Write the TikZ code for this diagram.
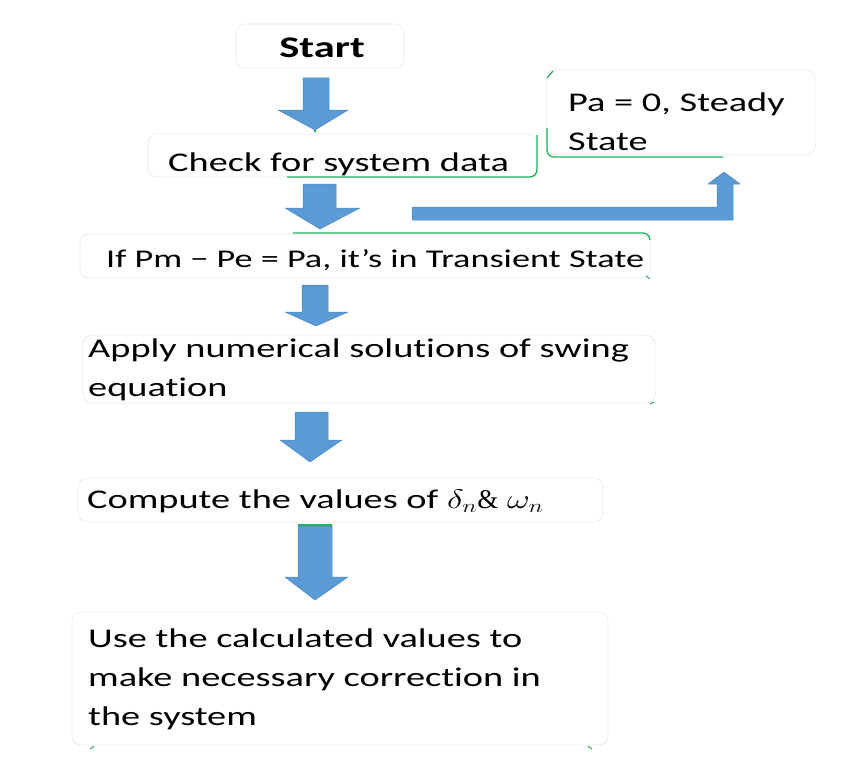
\documentclass[tikz,border=0pt]{standalone}
\usepackage{fontspec}
\usepackage{graphicx}
\setmainfont{Carlito}[FakeStretch=1.42, Ligatures={NoCommon,NoContextual}, Contextuals={NoAlternate}]
\newfontfamily\ampfont{Liberation Serif}
\definecolor{officeblue}{HTML}{5B9BD5}
\definecolor{blueedge}{HTML}{4A88C2}
\definecolor{gline}{HTML}{22B05A}
\definecolor{faint}{HTML}{ECECEC}
\tikzset{
  box/.style={draw=faint, line width=0.8pt, rounded corners=9pt, fill=white, inner sep=0pt},
  txt/.style={inner sep=0pt, anchor=base west, font=\fontsize{27}{39}\selectfont},
  blockarrow/.style={fill=officeblue, draw=blueedge, line width=0.5pt, line join=round},
  greenline/.style={draw=gline, line width=1.3pt, rounded corners=7pt}
}
\begin{document}
\begin{tikzpicture}[x=1pt,y=-1pt]
\useasboundingbox (0,0) rectangle (852,768);
% boxes
\node[box, minimum width=168pt, minimum height=44pt] (start) at (320,46) {};
\node[box, minimum width=389pt, minimum height=43pt] (check) at (342.5,155.5) {};
\node[box, minimum width=268pt, minimum height=85pt] (steady) at (681,112.5) {};
\node[box, minimum width=570pt, minimum height=44pt] (trans) at (365,256) {};
\node[box, minimum width=572pt, minimum height=68pt] (apply) at (369,369) {};
\node[box, minimum width=525pt, minimum height=44pt] (comp) at (340.5,500) {};
\node[box, minimum width=536pt, minimum height=133pt] (use) at (340,678.5) {};
% green partial borders
\draw[greenline] (287,177) -- (537,177) -- (537,135);
\draw[greenline] (547,128) -- (547,157) -- (723,157);
\draw[gline, line width=1.2pt] (547,78) -- (553,71);
\draw[greenline] (293,233) -- (650,233) -- (650,240);
\draw[gline, line width=1pt] (646,276) -- (650,279);
\draw[gline, line width=1pt] (650,404) -- (654,402);
\draw[gline, line width=1pt] (90,749) -- (94,746);
\draw[gline, line width=1pt] (588,746) -- (592,749);
% texts
\node[txt, anchor=base, font=\bfseries\fontsize{30}{36}\selectfont] (tstart) at (322,58) {Start};
\node[txt] (tcheck) at (168,171) {Check for system data};
\node[txt] (tsteady1) at (568,111) {Pa = 0, Steady};
\node[txt] (tsteady2) at (568,150) {State};
\node[txt, font=\fontsize{25.5}{39}\selectfont] (ttrans) at (106,267) {If Pm − Pe = Pa, it’s in Transient State};
\begin{scope}
\clip (83,335) rectangle (655,400);
\node[txt] (tapply1) at (88,357) {Apply numerical solutions of swing};
\node[txt] (tapply2) at (88,396) {equation};
\end{scope}
\node[txt] (tcomp) at (87,508) {Compute the values of \scalebox{1.42}[1.08]{$\delta_n$}{\ampfont\&} \scalebox{1.42}[1.08]{$\omega_n$}};
\node[txt] (tuse1) at (88,647) {Use the calculated values to};
\node[txt] (tuse2) at (88,686) {make necessary correction in};
\node[txt] (tuse3) at (88,725) {the system};
% block arrows (down)
\draw[blockarrow] (303,78) -- (329,78) -- (329,110) -- (348,110) -- (315,130) -- (278,110) -- (303,110) -- cycle;
\fill[gline] (315,131) circle (1.5pt);
\draw[blockarrow] (303,184) -- (336,184) -- (336,208) -- (360,208) -- (320,229) -- (285,208) -- (303,208) -- cycle;
\draw[blockarrow] (302,285) -- (328,285) -- (328,312) -- (348,312) -- (316,326) -- (285,312) -- (302,312) -- cycle;
\draw[blockarrow] (295,412) -- (328,412) -- (328,440) -- (342,440) -- (310,462) -- (280,440) -- (295,440) -- cycle;
\draw[blockarrow] (298,526) -- (332,526) -- (332,577) -- (348,577) -- (315,600) -- (285,577) -- (298,577) -- cycle;
\draw[gline, line width=1.2pt] (298,525) -- (332,525);
% bent arrow to steady state
\draw[blockarrow] (412,207) -- (717,207) -- (717,184) -- (708,184) -- (724,172) -- (740,184) -- (733,184) -- (733,220) -- (412,220) -- cycle;
\end{tikzpicture}
\end{document}
